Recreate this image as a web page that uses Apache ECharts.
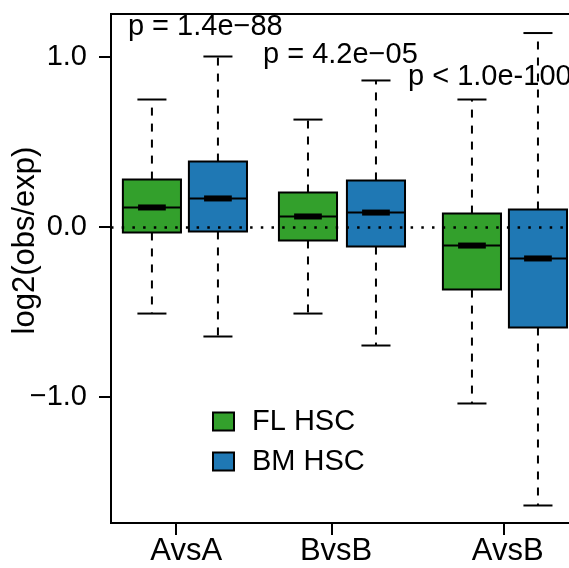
<!DOCTYPE html>
<html>
<head>
<meta charset="utf-8">
<script src="https://cdn.jsdelivr.net/npm/echarts@6/dist/echarts.min.js"></script>
<style>html,body{margin:0;padding:0;background:#fff;}#c{width:569px;height:568px;}</style>
</head>
<body>
<div id="c"></div>
<script>
// ---- data ----
const categories = ['AvsA', 'BvsB', 'AvsB'];
const seriesNames = ['FL HSC', 'BM HSC'];
// box positions along x (like R's "at")
const flPos = [1, 3.364, 5.848];
const bmPos = [2, 4.394, 6.848];
// FL HSC five-number summaries
const flLow  = [-0.509, -0.509, -1.038];
const flQ1   = [-0.032, -0.079, -0.368];
const flMed  = [0.115, 0.062, -0.109];
const flQ3   = [0.279, 0.203, 0.079];
const flHigh = [0.750, 0.632, 0.750];
// BM HSC five-number summaries
const bmLow  = [-0.644, -0.697, -1.638];
const bmQ1   = [-0.026, -0.115, -0.591];
const bmMed  = [0.168, 0.085, -0.185];
const bmQ3   = [0.385, 0.274, 0.103];
const bmHigh = [1.003, 0.862, 1.141];
// axis ticks / labels
const xTickPos = [1.364, 3.727, 6.333];
const xLabelPos = [1.52, 3.79, 6.39];
const yTicks = [-1, 0, 1];
// p-value annotations
const pLabels = ['p = 1.4e\u221288', 'p = 4.2e\u221205', 'p < 1.0e-100'];
const pX = [0.636, 2.682, 4.879];
const pY = [1.174, 1.009, 0.882];

const GREEN = '#33a02c', BLUE = '#1f78b4';
const FONT = '"Liberation Sans", Arial, Helvetica, sans-serif';
const BOX_HALF = 0.44, CAP_HALF = 0.22, MED_HALF = 0.21;
const X_MIN = 0.38, X_MAX = 7.5;

function boxData(pos, lo, q1, med, q3, hi) {
  return pos.map((p, i) => [p, lo[i], q1[i], med[i], q3[i], hi[i]]);
}

function renderBox(params, api) {
  const x = api.value(0);
  const pLo = api.coord([x, api.value(1)]);
  const pQ1 = api.coord([x, api.value(2)]);
  const pMed = api.coord([x, api.value(3)]);
  const pQ3 = api.coord([x, api.value(4)]);
  const pHi = api.coord([x, api.value(5)]);
  const hw = api.size([BOX_HALF, 0])[0];
  const cw = api.size([CAP_HALF, 0])[0];
  const mw = api.size([MED_HALF, 0])[0];
  const cx = pMed[0];
  const color = api.visual('color');
  const dash = {stroke: '#000', lineWidth: 2, lineDash: [8, 8]};
  const solid = {stroke: '#000', lineWidth: 2};
  return {
    type: 'group',
    children: [
      {type: 'line', shape: {x1: cx, y1: pQ3[1], x2: cx, y2: pHi[1]}, style: dash},
      {type: 'line', shape: {x1: cx, y1: pQ1[1], x2: cx, y2: pLo[1]}, style: dash},
      {type: 'line', shape: {x1: cx - cw, y1: pHi[1], x2: cx + cw, y2: pHi[1]}, style: solid},
      {type: 'line', shape: {x1: cx - cw, y1: pLo[1], x2: cx + cw, y2: pLo[1]}, style: solid},
      {type: 'rect', shape: {x: cx - hw, y: pQ3[1], width: 2 * hw, height: pQ1[1] - pQ3[1]},
        style: {fill: color, stroke: '#000', lineWidth: 2}},
      {type: 'line', shape: {x1: cx - hw, y1: pMed[1], x2: cx + hw, y2: pMed[1]}, style: {stroke: '#000', lineWidth: 2}},
      {type: 'rect', shape: {x: cx - mw, y: pMed[1] - 3, width: 2 * mw, height: 6}, style: {fill: '#000'}}
    ]
  };
}

function renderText(params, api) {
  const p = api.coord([api.value(0), api.value(1)]);
  return {
    type: 'text',
    x: p[0], y: p[1],
    style: {text: pLabels[params.dataIndex], fontSize: 29, fontFamily: FONT, fill: '#000',
      align: 'left', verticalAlign: 'middle'}
  };
}

const chart = echarts.init(document.getElementById('c'), null, {renderer: 'canvas'});
chart.setOption({
  animation: false,
  backgroundColor: '#fff',
  grid: {left: 111, top: 14, width: 470, height: 509, show: true, borderColor: '#000', borderWidth: 2,
    backgroundColor: 'transparent', containLabel: false, outerBoundsMode: 'none'},
  legend: {
    data: seriesNames, orient: 'vertical', left: 207, top: 402, icon: 'rect',
    itemWidth: 21, itemHeight: 18, itemGap: 11,
    itemStyle: {borderColor: '#000', borderWidth: 2},
    textStyle: {fontSize: 29, color: '#000', fontFamily: FONT, padding: [0, 0, 0, 13]}
  },
  xAxis: [
    {type: 'value', min: X_MIN, max: X_MAX, position: 'bottom',
      axisLine: {show: true, onZero: false, lineStyle: {color: '#000', width: 2}},
      axisTick: {show: true, customValues: xTickPos, length: 12, lineStyle: {color: '#000', width: 2}},
      axisLabel: {show: false}, splitLine: {show: false}},
    {type: 'value', min: X_MIN, max: X_MAX, position: 'bottom', gridIndex: 0,
      axisLine: {show: false, onZero: false}, axisTick: {show: false}, splitLine: {show: false},
      axisLabel: {show: true, customValues: xLabelPos, margin: 13, fontSize: 31, color: '#000', fontFamily: FONT,
        formatter: function (v) {
          let best = 0;
          xLabelPos.forEach((p, i) => { if (Math.abs(p - v) < Math.abs(xLabelPos[best] - v)) best = i; });
          return categories[best];
        }}}
  ],
  yAxis: {
    type: 'value', min: -1.741, max: 1.253,
    name: 'log2(obs/exp)', nameLocation: 'middle', nameGap: 70, nameRotate: 90, nameMoveOverlap: false,
    nameTextStyle: {fontSize: 31, color: '#000', fontFamily: FONT, padding: [0, 0, 0, 56]},
    axisLine: {show: true, onZero: false, lineStyle: {color: '#000', width: 2}},
    axisTick: {show: true, customValues: yTicks, length: 12, lineStyle: {color: '#000', width: 2}},
    axisLabel: {show: true, customValues: yTicks, margin: 24, fontSize: 29, color: '#000', fontFamily: FONT,
      formatter: v => (v < 0 ? '\u2212' + Math.abs(v).toFixed(1) : v.toFixed(1))},
    splitLine: {show: false}
  },
  series: [
    {name: seriesNames[0], type: 'custom', renderItem: renderBox, itemStyle: {color: GREEN}, z: 2,
      encode: {x: 0, y: [1, 2, 3, 4, 5]}, data: boxData(flPos, flLow, flQ1, flMed, flQ3, flHigh)},
    {name: seriesNames[1], type: 'custom', renderItem: renderBox, itemStyle: {color: BLUE}, z: 2,
      encode: {x: 0, y: [1, 2, 3, 4, 5]}, data: boxData(bmPos, bmLow, bmQ1, bmMed, bmQ3, bmHigh)},
    {name: 'zero', type: 'line', data: [], z: 5, silent: true,
      markLine: {silent: true, symbol: 'none', label: {show: false},
        lineStyle: {color: '#000', width: 2.5, type: [2.5, 8.2], cap: 'butt'},
        data: [{yAxis: 0}]}},
    {name: 'pvalues', type: 'custom', renderItem: renderText, clip: false, z: 1, silent: true,
      encode: {x: 0, y: 1}, data: pX.map((x, i) => [x, pY[i]])}
  ]
});
</script>
</body>
</html>
